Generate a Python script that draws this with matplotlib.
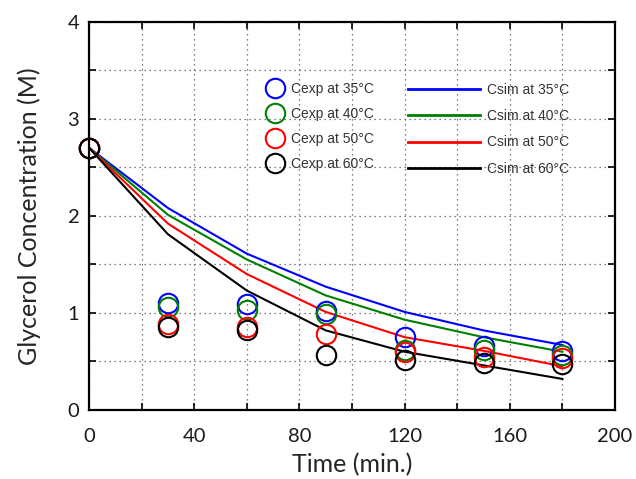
import matplotlib.pyplot as plt
from matplotlib.ticker import MultipleLocator

# 実験値 (Cexp) と計算値 (Csim)
t_exp = [0, 30, 60, 90, 120, 150, 180]
cexp_35 = [2.70, 1.10, 1.09, 1.02, 0.75, 0.66, 0.61]
cexp_40 = [2.70, 1.06, 1.03, 0.99, 0.62, 0.62, 0.57]
cexp_50 = [2.70, 0.89, 0.85, 0.78, 0.60, 0.55, 0.54]
cexp_60 = [2.70, 0.85, 0.82, 0.57, 0.52, 0.48, 0.47]

t_sim = [0, 30, 60, 90, 120, 150, 180]
csim_35 = [2.70, 2.08, 1.61, 1.27, 1.01, 0.82, 0.67]
csim_40 = [2.70, 2.01, 1.55, 1.18, 0.93, 0.75, 0.60]
csim_50 = [2.70, 1.92, 1.40, 1.01, 0.75, 0.61, 0.45]
csim_60 = [2.70, 1.81, 1.23, 0.82, 0.60, 0.46, 0.32]

temps = ["35", "40", "50", "60"]
colors = ["#0000ff", "#008000", "#ff0000", "#000000"]

plt.rcParams["font.family"] = ["Lato", "DejaVu Sans"]

fig = plt.figure(figsize=(6.36, 4.79), dpi=100)
ax = fig.add_axes([0.140, 0.144, 0.827, 0.811])

# 計算値の線
sim_lines = []
for c, col, tp in zip([csim_35, csim_40, csim_50, csim_60], colors, temps):
    (ln,) = ax.plot(t_sim, c, color=col, linewidth=1.5, label="Csim at " + tp + "°C")
    sim_lines.append(ln)

# 実験値の丸
exp_marks = []
for c, col, tp in zip([cexp_35, cexp_40, cexp_50, cexp_60], colors, temps):
    (mk,) = ax.plot(t_exp, c, linestyle="none", marker="o", markersize=14,
                    markerfacecolor="none", markeredgecolor=col,
                    markeredgewidth=1.5, clip_on=False,
                    label="Cexp at " + tp + "°C")
    exp_marks.append(mk)

ax.set_xlim(0, 200)
ax.set_ylim(0, 4)
ax.xaxis.set_major_locator(MultipleLocator(40))
ax.xaxis.set_minor_locator(MultipleLocator(20))
ax.yaxis.set_major_locator(MultipleLocator(1))
ax.yaxis.set_minor_locator(MultipleLocator(0.5))
ax.grid(True, which="both", linestyle=(0, (1, 3)), color="#555555", linewidth=0.9)
ax.tick_params(which="both", direction="in", top=True, right=True,
               width=1.2, length=5, labelsize=14.5, labelcolor="#1a1a1a")
ax.tick_params(axis="x", which="major", pad=13)
ax.tick_params(axis="y", which="major", pad=7)
for s in ax.spines.values():
    s.set_linewidth(1.6)

ax.set_xlabel("Time (min.)", fontsize=18, color="#262626", labelpad=6)
ax.set_ylabel("Glycerol Concentration (M)", fontsize=18, color="#262626", labelpad=19)

leg_font = {"family": "Liberation Sans", "size": 10}
leg1 = ax.legend(handles=exp_marks, loc="upper left",
                 bbox_to_anchor=(259 / 636, 1 - 75 / 479), bbox_transform=fig.transFigure,
                 frameon=False, prop=leg_font, handlelength=1.3, handletextpad=0.5,
                 labelspacing=0.8, borderpad=0, labelcolor="#333333")
ax.add_artist(leg1)
leg2 = ax.legend(handles=sim_lines, loc="upper left",
                 bbox_to_anchor=(401 / 636, 1 - 76 / 479), bbox_transform=fig.transFigure,
                 frameon=False, prop=leg_font, handlelength=5.2, handletextpad=0.5,
                 labelspacing=0.88, borderpad=0, labelcolor="#333333")
for lh in leg2.get_lines():
    lh.set_linewidth(2)

fig.savefig("out.png", dpi=100)
